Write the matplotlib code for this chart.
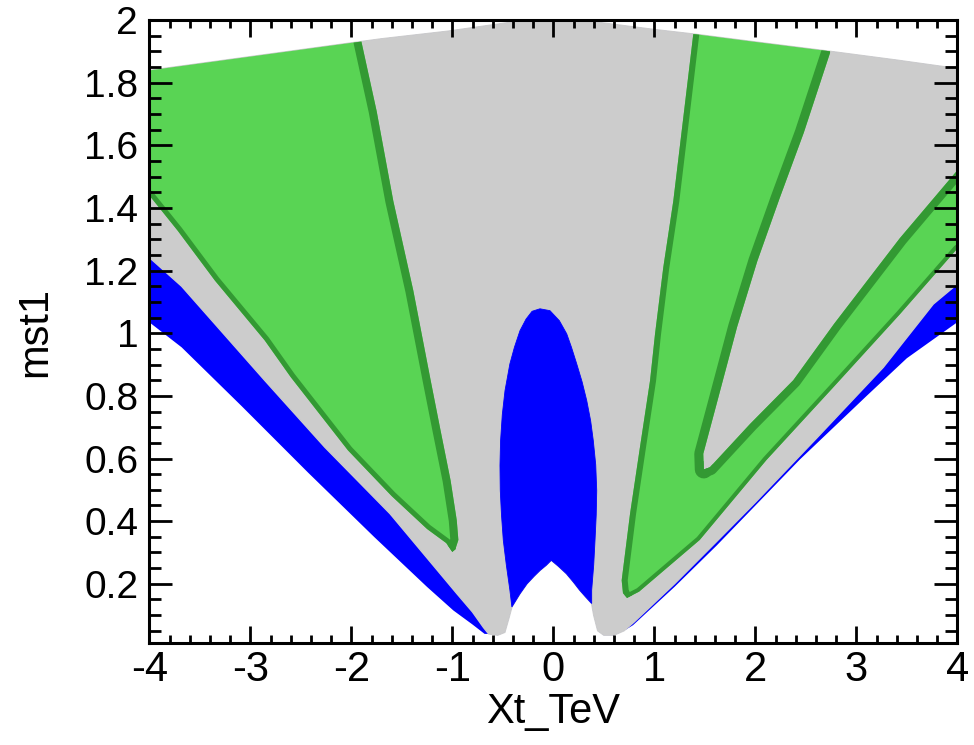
import numpy as np
import matplotlib
matplotlib.use("Agg")
import matplotlib.pyplot as plt
from matplotlib.patches import Polygon

plt.rcParams['font.family'] = ['Liberation Sans', 'DejaVu Sans']

# ---------------- data (boundaries) ----------------
# upper edge of the scanned region
top_x = [-4.0, -3.0, -2.0, -1.7, -1.05, -0.26, 0.0, 0.26, 0.99, 1.42, 2.0, 2.74, 3.4, 4.0]
top_y = [1.839, 1.883, 1.927, 1.940, 1.964, 2.000, 2.010, 2.000, 1.970, 1.954, 1.930, 1.900, 1.872, 1.845]

# left lower edges: outer (blue/white) and gray/blue
lo_x = [-4.0, -3.68, -3.085, -2.428, -1.772, -1.25, -0.99, -0.80, -0.68]
lo_y = [1.035, 0.955, 0.767, 0.555, 0.349, 0.19, 0.115, 0.07, 0.04]
lg_x = [-4.0, -3.68, -2.856, -2.262, -1.617, -0.956, -0.80, -0.69]
lg_y = [1.242, 1.150, 0.849, 0.636, 0.424, 0.169, 0.11, 0.06]

# central lower boundary (gray lobes and white notch)
cl_x = [-0.64, -0.55, -0.48, -0.44]
cl_y = [0.040, 0.036, 0.045, 0.090]
notch_x = [-0.41, -0.33, -0.26, -0.19, -0.13, -0.07, -0.02, 0.05, 0.13, 0.20, 0.26, 0.32, 0.38]
notch_y = [0.126, 0.168, 0.200, 0.224, 0.243, 0.259, 0.275, 0.256, 0.232, 0.205, 0.180, 0.158, 0.137]
cr_x = [0.40, 0.44, 0.50, 0.60, 0.70]
cr_y = [0.100, 0.050, 0.036, 0.036, 0.050]

# right lower edges: gray/blue and outer (blue/white)
rg_x = [0.80, 1.2, 1.617, 2.0, 2.607, 3.267, 3.762, 4.0]
rg_y = [0.078, 0.20, 0.335, 0.46, 0.665, 0.891, 1.093, 1.157]
ro_x = [0.79, 1.2, 1.617, 2.442, 3.103, 3.5, 4.0]
ro_y = [0.068, 0.19, 0.322, 0.597, 0.80, 0.92, 1.035]

# central blue blob (edge from right notch corner, over the top, to left corner)
blob_x = [0.38, 0.40, 0.413, 0.425, 0.43, 0.42, 0.396, 0.37, 0.331, 0.285, 0.232, 0.18,
          0.133, 0.06, -0.033, -0.132, -0.21, -0.27, -0.33, -0.385, -0.43, -0.478,
          -0.505, -0.522, -0.528, -0.525, -0.513, -0.495, -0.465, -0.43]
blob_y = [0.18, 0.26, 0.339, 0.42, 0.498, 0.58, 0.657, 0.72, 0.785, 0.845, 0.902, 0.955,
          0.998, 1.04, 1.072, 1.078, 1.07, 1.045, 1.008, 0.955, 0.902, 0.817,
          0.74, 0.657, 0.578, 0.498, 0.42, 0.339, 0.26, 0.18]

# left green wedge
lw_top_x = [-4.0, -3.0, -2.0, -1.90]
lw_top_y = [1.839, 1.883, 1.927, 1.931]
lw_r_x = [-1.90, -1.749, -1.584, -1.386, -1.214, -1.116, -1.017, -0.956, -0.94, -0.97, -1.0]
lw_r_y = [1.931, 1.709, 1.422, 1.136, 0.849, 0.689, 0.53, 0.403, 0.34, 0.31, 0.302]
lw_l_x = [-1.0, -1.06, -1.25, -1.6, -2.033, -2.6, -2.857, -3.35, -3.718, -4.0]
lw_l_y = [0.302, 0.33, 0.375, 0.48, 0.626, 0.86, 0.977, 1.168, 1.327, 1.44]

# right green V region
v_l_x = [1.386, 1.287, 1.188, 1.089, 1.007, 0.958, 0.858, 0.76, 0.677, 0.69, 0.73]
v_l_y = [1.955, 1.688, 1.422, 1.21, 0.997, 0.849, 0.636, 0.424, 0.211, 0.17, 0.155]
v_lo_x = [0.73, 0.85, 1.45, 2.11, 2.78, 3.43, 4.0]
v_lo_y = [0.155, 0.175, 0.34, 0.595, 0.83, 1.06, 1.27]
v_ir_x = [4.0, 3.43, 2.78, 2.376, 1.947, 1.551, 1.49]
v_ir_y = [1.52, 1.303, 1.03, 0.85, 0.71, 0.572, 0.565]
v_il_x = [1.49, 1.485, 1.617, 1.82, 2.02, 2.24, 2.48, 2.74]
v_il_y = [0.565, 0.615, 0.774, 1.02, 1.23, 1.43, 1.64, 1.895]
v_top_x = [2.74, 2.0, 1.42, 1.386]
v_top_y = [1.900, 1.930, 1.954, 1.955]

xticks = [-4, -3, -2, -1, 0, 1, 2, 3, 4]
xtick_labels = ['-4', '-3', '-2', '-1', '0', '1', '2', '3', '4']
yticks = [0.2, 0.4, 0.6, 0.8, 1.0, 1.2, 1.4, 1.6, 1.8, 2.0]
ytick_labels = ['0.2', '0.4', '0.6', '0.8', '1', '1.2', '1.4', '1.6', '1.8', '2']

# ---------------- colours ----------------
GRAY = '#cccccc'
BLUE = '#0000ff'
LGREEN = '#59d454'
DGREEN = '#339933'

# ---------------- figure ----------------
W, H, DPI = 974, 745, 100
fig = plt.figure(figsize=(W / DPI, H / DPI), dpi=DPI)
ax = fig.add_axes([149.3 / W, 1 - 643.3 / H, 808 / W, 623.3 / H])
ax.set_xlim(-4, 4)
ax.set_ylim(0.01, 2.0)


def pts(xs, ys):
    return list(zip(xs, ys))


top_rev = pts(top_x[::-1], top_y[::-1])
lower_mid = pts(cl_x, cl_y) + pts(notch_x, notch_y) + pts(cr_x, cr_y)

# full region (blue underneath)
blue_poly = pts(lo_x, lo_y) + lower_mid + pts(ro_x, ro_y) + top_rev
ax.add_patch(Polygon(blue_poly, closed=True, fc=BLUE, ec='none', zorder=1))

# gray region (thin same-colour stroke hides antialiasing fringes)
gray_poly = pts(lg_x, lg_y) + lower_mid + pts(rg_x, rg_y) + top_rev
ax.add_patch(Polygon(gray_poly, closed=True, fc=GRAY, ec=GRAY, lw=1.0, zorder=1.1))

# central blob
blob_poly = pts(blob_x, blob_y) + pts(notch_x, notch_y)
ax.add_patch(Polygon(blob_poly, closed=True, fc=BLUE, ec=BLUE, lw=0.6, zorder=1.2))


def green_region(edges, dark_edges):
    verts = []
    for ex, ey in edges:
        verts += pts(ex, ey)
    patch = Polygon(verts, closed=True, fc=LGREEN, ec='none', zorder=1.3)
    ax.add_patch(patch)
    for ex, ey, px in dark_edges:
        ln, = ax.plot(ex, ey, color=DGREEN, lw=2 * px * 72 / DPI,
                      solid_joinstyle='round', solid_capstyle='round', zorder=1.4)
        ln.set_clip_path(patch)


green_region([(lw_top_x, lw_top_y), (lw_r_x, lw_r_y), (lw_l_x, lw_l_y)],
             [(lw_r_x, lw_r_y, 8), (lw_l_x, lw_l_y, 5)])
green_region([(v_l_x, v_l_y), (v_lo_x, v_lo_y), (v_ir_x, v_ir_y),
              (v_il_x, v_il_y), (v_top_x, v_top_y)],
             [(v_l_x, v_l_y, 6), (v_lo_x, v_lo_y, 4),
              (v_ir_x, v_ir_y, 8), (v_il_x, v_il_y, 9)])

# ---------------- axes styling (ROOT-like) ----------------
ax.set_xticks(xticks)
ax.set_xticklabels(xtick_labels)
ax.set_yticks(yticks)
ax.set_yticklabels(ytick_labels)
ax.set_xticks(np.arange(-4, 4.001, 0.2), minor=True)
ax.set_yticks(np.arange(0.05, 2.001, 0.05), minor=True)
ax.tick_params(which='both', direction='in', top=True, right=True, width=2, color='black')
ax.tick_params(axis='x', which='major', length=12.5, labelsize=30, pad=5)
ax.tick_params(axis='x', which='minor', length=6)
ax.tick_params(axis='y', which='major', length=16.5, labelsize=28, pad=8)
ax.tick_params(axis='y', which='minor', length=8.5)
for s in ax.spines.values():
    s.set_linewidth(2.2)
    s.set_zorder(5)

ax.set_xlabel('Xt_TeV', fontsize=30)
ax.set_ylabel('mst1', fontsize=30, va='center')
ax.yaxis.set_label_coords((35 - 149.3) / 808, 0.5)
ax.xaxis.set_label_coords(0.5, -(712 - 643.3) / 623.3)
ax.xaxis.label.set_va('center')

fig.savefig('out.png', dpi=DPI)
